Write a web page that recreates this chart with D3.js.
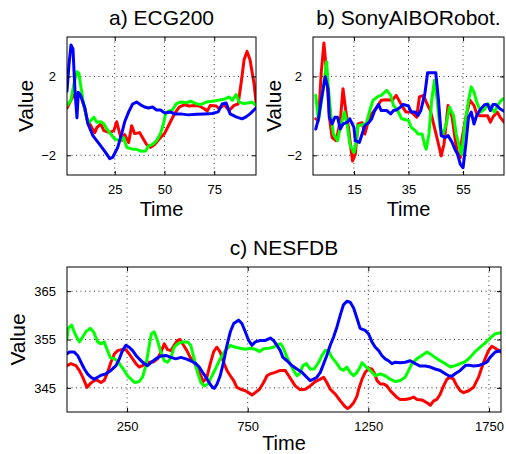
<!DOCTYPE html>
<html>
<head>
<meta charset="utf-8">
<script src="https://cdn.jsdelivr.net/npm/d3@7"></script>
<style>
  body { margin: 0; background: #fff; }
  text { font-family: "Liberation Sans", Arial, Helvetica, sans-serif; fill: #000; }
</style>
</head>
<body>
<div id="chart"></div>
<script>
// ---- data: [time, value] ----
const ecgRed = [[1,0.4],[3,0.8],[4.5,1.05],[6,0.95],[8,1.05],[9.5,0.5],[11,-0.15],[13.5,-0.6],[15,-0.85],[16,-0.6],[18,-0.4],[19.5,-0.75],[22.5,-0.85],[24.5,-0.75],[26,-0.3],[27.5,-0.9],[28.5,-1.25],[30,-0.95],[32,-1.35],[33.5,-0.5],[35,-0.9],[37.5,-0.85],[39.5,-1.2],[41,-1.45],[43,-1.6],[45,-1.45],[48,-1.1],[50,-0.9],[52.5,-0.4],[55,0.1],[57.5,0.45],[60,0.56],[62.5,0.5],[65,0.53],[67.5,0.5],[70,0.36],[71.5,0.24],[73,0.53],[76,0.5],[77.5,0.36],[80,0.57],[82.5,0.27],[85,0.53],[87,0.6],[88.5,1.64],[90,2.84],[91.5,3.27],[93,2.84],[95,1.64],[96,0.7]];
const ecgGreen = [[1,0.53],[3,0.8],[4.5,1.64],[6,2.24],[7,2.15],[8,1.47],[9,0.8],[10.5,0.1],[11.5,-0.4],[13,-0.24],[14.5,-0.07],[16,-0.32],[18,-0.3],[19.5,-0.4],[21,-0.67],[23,-0.92],[25,-1.18],[28,-1.26],[29.5,-1.1],[31,-1.6],[34,-1.69],[36,-1.7],[38.5,-1.8],[40.5,-1.78],[42,-1.52],[44,-1.45],[46,-1.26],[48,-0.9],[49.5,-0.4],[50.5,0.1],[52,0.24],[54,0.3],[56,0.62],[58,0.7],[61,0.66],[63,0.74],[66,0.62],[68,0.57],[71,0.7],[74,0.74],[77,0.79],[80,0.84],[82.5,0.96],[84,0.79],[86,1.08],[87.5,0.7],[90,0.62],[92.5,0.66],[94,0.7],[96,0.53]];
const ecgBlue = [[1,1.25],[2,2.6],[3,3.6],[4,3.4],[5,1.3],[6,-0.1],[6.7,1.2],[8,1.0],[10,0.4],[11.5,-0.4],[14,-1.0],[17,-1.4],[20,-1.8],[22.5,-2.17],[24,-2.1],[26.5,-1.6],[28.5,-0.9],[30,-0.3],[32,0.2],[34,0.6],[36,0.7],[38,0.56],[40,0.45],[42,0.4],[44,0.45],[46,0.3],[48,0.3],[50,0.15],[53,0.2],[55,0.1],[58,0.1],[62,0.05],[66,0.08],[70,0.1],[74,0.12],[77,0.2],[79,0.6],[81,0.65],[83,0.1],[86,-0.05],[89,-0.15],[91,-0.05],[93,0.1],[96,0.4]];

const sonyRed = [[1,-0.15],[2,-0.24],[3,2.15],[4,3.7],[5,2.15],[6,-0.07],[7,-1.1],[8.5,-1.26],[10,-0.24],[11,1.38],[12,0.27],[13,-0.58],[14,-1.78],[14.5,-2.29],[15.5,-1.95],[16.5,-0.41],[18,-0.35],[19,-0.92],[20,-0.4],[21.5,0.1],[23,0.36],[25,0.79],[27,0.82],[29,0.79],[30.5,1.04],[32.5,0.53],[34,0.2],[36,0.2],[38,-0.07],[39,0.96],[40.5,1.04],[41.5,0.7],[43,0.27],[44.5,-0.58],[46,-1.44],[47,-2.03],[48,-1.44],[49.5,0.53],[51,-0.07],[52,-1.1],[53,-1.95],[54,-2.12],[54.5,-1.26],[56,-0.07],[57.5,0.79],[59,0.53],[60,0.1],[61,0],[62.5,0],[64,0],[65,-0.32],[66,-0.05],[67.5,0.19],[68.5,-0.05],[70,-0.32]];
const sonyGreen = [[1,1.04],[2,-0.24],[3.5,1.13],[5,2.75],[5.5,1.64],[6.5,0.1],[7.5,-0.92],[9,-1.26],[10,-0.58],[11.5,0.19],[12.5,-0.41],[13.5,-1.44],[15,-1.86],[15.5,-1.6],[16.5,-0.5],[18,-0.45],[19.5,-0.4],[21,0.36],[22,0.79],[24,1.0],[25,1.04],[27,1.3],[28.5,1.04],[29.5,0.53],[31,0.27],[32.5,-0.15],[34,-0.2],[35,-0.24],[36,-0.58],[37.5,-0.75],[38.5,-0.92],[40,-0.92],[41,-1.52],[41.5,-1.69],[42.5,-0.92],[43.5,0.79],[44.5,1.81],[45.5,0.79],[46.5,-0.58],[47.5,-1.0],[49,-0.32],[50,0.44],[51.5,0.02],[52.5,-0.92],[54,-1.78],[54.5,-1.95],[55.5,-0.58],[57,0.79],[58,1.47],[59,1.21],[60,0.7],[61.5,0.19],[63,0.36],[64,0.62],[65,0.45],[66.5,0.19],[67.5,0.5],[69,0.79],[70,0.88]];
const sonyBlue = [[1,-0.67],[2,-0.15],[3,0.79],[4.5,1.98],[5.5,1.38],[6,-0.07],[7,-0.41],[8,-0.07],[9,-0.07],[10,-0.67],[11,-0.41],[12.5,-0.33],[13.5,-0.15],[15,-0.58],[15.5,-1.26],[17,-1.35],[18,-0.92],[19,-0.5],[20.5,-0.33],[21.5,-0.15],[22.5,0.24],[24,0.58],[25,0.27],[27,0.27],[28.5,0.1],[29.5,0.27],[30.5,0.3],[32,0.44],[33,0.58],[35,0.5],[36,0.19],[37.5,0.19],[38.5,0.02],[39.5,0.27],[41,1.13],[42,2.19],[43.5,2.19],[45,2.19],[46,0.79],[47,-1.0],[48.5,-1.1],[49.5,-1.0],[51,-1.35],[52,-1.69],[53,-1.95],[54,-2.46],[55,-2.63],[56,-1.44],[57,-0.07],[58,0.19],[59,-0.41],[60,0.02],[61.5,0.36],[63,0.58],[64,0.58],[65,0.27],[66,0.58],[67,0.58],[68.5,0.36],[70,0.24]];

const nesRed = [[1,349.6],[17,350.0],[38,349.6],[52,348.6],[66,347.2],[84,345.1],[100,346],[121,346.7],[142,346.1],[155,346.5],[169,348.2],[183,350.3],[197,352],[211,352.7],[227,352.9],[245,352.9],[259,352],[273,351],[287,350],[300,349.3],[314,349.6],[328,350.3],[342,350.3],[360,350.4],[376,351],[393,352.7],[404,354.1],[418,352.9],[432,352.7],[445,353.8],[459,354.8],[470,355],[484,353.8],[498,352.7],[512,351.3],[528,350.3],[542,348.9],[556,347.5],[566,346.3],[580,347],[595,350],[609,352.5],[622,353.4],[636,352.4],[650,350.3],[664,348.6],[678,347.5],[692,346.5],[705,345.1],[722,344.7],[740,344.4],[754,344],[768,343.5],[781,344],[799,344.7],[816,346.1],[830,347.5],[844,347.9],[864,348.2],[885,348.6],[906,348.6],[920,347.5],[933,346.5],[947,345.4],[968,344.6],[989,344.7],[1009,345.4],[1030,346.3],[1051,346.8],[1065,347.2],[1078,346.1],[1092,344.7],[1113,343.7],[1134,342.3],[1154,341.1],[1164,340.7],[1175,341.1],[1189,341.9],[1203,343.3],[1210,344.7],[1224,346.8],[1237,348.2],[1251,349],[1265,348.9],[1276,347.9],[1286,346.5],[1300,345.8],[1314,345.8],[1327,345.4],[1341,344.4],[1355,343.7],[1369,343],[1382,342.6],[1403,342.6],[1424,342.8],[1438,343.1],[1451,342.6],[1472,342.5],[1493,341.9],[1507,341.4],[1521,342.3],[1534,342.6],[1548,343.7],[1562,345.4],[1576,346.8],[1590,347.2],[1603,346.8],[1617,345.4],[1631,344.4],[1645,344],[1666,344.4],[1686,345.1],[1707,347.2],[1728,350.3],[1748,352.7],[1762,353.6],[1776,353.2],[1800,352.4]];
const nesGreen = [[1,355.2],[6,357.3],[20,358],[34,356.2],[52,354.5],[66,355.5],[79,356.6],[97,357.3],[111,356.6],[128,354.5],[142,354.1],[155,354.5],[166,353.1],[180,351.3],[197,351],[211,350.6],[224,349.6],[238,348.6],[252,347.5],[266,346.8],[282,346.1],[300,346.3],[314,347.2],[328,349.6],[342,353.8],[351,356.2],[362,356.6],[376,354.8],[390,352.4],[404,350.6],[418,350.3],[432,351.3],[445,353.4],[459,354.1],[480,354.5],[500,354.5],[514,353.8],[528,351],[542,348.2],[556,346.1],[570,345.4],[586,345.8],[600,347.3],[616,348.9],[636,351],[657,352.7],[678,353.8],[699,353.4],[719,353.2],[740,353],[761,353.2],[781,353],[799,352.5],[816,353.1],[837,353.2],[857,353.4],[871,353.9],[888,354.1],[899,353.1],[913,351.3],[926,350],[940,348.6],[954,347.5],[965,347.9],[979,349.6],[993,350],[1009,348.9],[1026,348.9],[1044,350.3],[1058,351.7],[1071,352.7],[1085,352.7],[1099,351.3],[1120,350],[1134,348.9],[1147,348.6],[1161,349.3],[1175,348.2],[1189,347.5],[1203,348.2],[1216,349.3],[1224,350.2],[1237,349.5],[1258,348.6],[1279,347.5],[1300,347.9],[1320,347.5],[1341,346.8],[1362,346.3],[1382,346.5],[1403,347.2],[1417,348.6],[1431,350],[1451,351],[1472,351.7],[1493,352.4],[1507,352],[1527,351.3],[1548,350.6],[1569,350],[1590,349.3],[1610,349.6],[1631,350],[1652,350.4],[1672,351.3],[1693,352.5],[1714,353.4],[1735,354.3],[1755,355.3],[1776,356.2],[1800,356.4]];
const nesBlue = [[1,352],[10,352.4],[31,352.4],[45,351.7],[59,350.3],[73,348.9],[86,347.9],[100,347.2],[114,346.8],[128,347.2],[142,347.6],[162,347.9],[183,348.6],[204,349.6],[218,351],[231,352.7],[245,353.8],[259,353.4],[273,352.7],[287,351.7],[300,351],[321,350],[335,349.6],[351,350.3],[369,351],[390,351.6],[411,351.7],[432,351.3],[452,351],[473,351.3],[494,351],[514,350.6],[535,350],[549,349.3],[563,348.2],[577,347.2],[590,346.1],[604,345.1],[612,344.9],[623,345.8],[636,347.5],[650,350.3],[664,353.8],[678,356.6],[692,358.3],[712,359],[726,358.3],[740,356.6],[754,354.8],[768,353.8],[781,354.5],[802,354.8],[823,354.8],[844,355.3],[857,354.8],[871,353.8],[885,352.7],[896,351.3],[913,350.6],[933,349.6],[954,348.9],[975,348.2],[995,347.2],[1009,346.5],[1023,346.8],[1037,347.2],[1051,348.2],[1065,350],[1078,351.7],[1092,353.8],[1106,355.5],[1120,357.6],[1134,360.1],[1147,362.2],[1161,362.9],[1175,362.7],[1189,361.5],[1203,359.4],[1216,357.3],[1237,356.9],[1251,356.2],[1265,354.5],[1279,353.4],[1293,352.7],[1306,351.7],[1320,351],[1334,350.6],[1348,350],[1362,350.3],[1382,350.2],[1403,350.3],[1424,350.6],[1445,350],[1465,349.5],[1486,349.5],[1507,349.3],[1527,348.9],[1548,348.6],[1569,347.9],[1583,347.5],[1596,347.4],[1610,347.9],[1631,348.6],[1652,349.6],[1666,349.7],[1686,349.5],[1707,349.6],[1728,350],[1741,350.3],[1755,351.3],[1776,352.4],[1800,352.7]];

const ecgTicksX = [25, 50, 75];
const sonyTicksX = [15, 35, 55];
const nesTicksX = [250, 750, 1250, 1750];
const smallTicksY = [-2, 2];
const nesTicksY = [345, 355, 365];

const seriesColors = ["#ff0000", "#00ff00", "#0000ff"];

const width = 506, height = 454;

const svg = d3.select("#chart")
    .append("svg")
    .attr("width", width)
    .attr("height", height)
    .style("background", "#fff");

function drawPanel(cfg) {
    const w = cfg.right - cfg.left,
        h = cfg.bottom - cfg.top;
    const g = svg.append("g").attr("transform", `translate(${cfg.left},${cfg.top})`);

    const x = d3.scaleLinear().domain(cfg.xDomain).range([0, w]);
    const y = d3.scaleLinear().domain(cfg.yDomain).range([h, 0]);
    const fmt = d3.format("d");

    // dotted grid
    g.selectAll(".vgrid").data(cfg.xTicks).join("line")
        .attr("x1", d => x(d)).attr("x2", d => x(d))
        .attr("y1", 0).attr("y2", h)
        .attr("stroke", "#000").attr("stroke-width", 0.8)
        .attr("stroke-dasharray", "1,3.5");
    g.selectAll(".hgrid").data(cfg.yTicks).join("line")
        .attr("x1", 0).attr("x2", w)
        .attr("y1", d => y(d)).attr("y2", d => y(d))
        .attr("stroke", "#000").attr("stroke-width", 0.8)
        .attr("stroke-dasharray", "1,3.5");

    // lines
    g.append("clipPath").attr("id", "clip-" + cfg.id)
        .append("rect").attr("width", w).attr("height", h);

    const line = d3.line()
        .x(d => x(d[0]))
        .y(d => y(d[1]));

    g.append("g").attr("clip-path", `url(#clip-${cfg.id})`)
        .selectAll("path").data(cfg.series).join("path")
        .attr("fill", "none")
        .attr("stroke", (d, i) => seriesColors[i])
        .attr("stroke-width", 3)
        .attr("stroke-linejoin", "round")
        .attr("stroke-linecap", "round")
        .attr("d", d => line(d));

    // axes, ticks pointing inward
    const styleAxis = a => {
        a.select(".domain").remove();
        a.selectAll("text").attr("font-size", 13).attr("font-family", '"Liberation Sans", Arial, sans-serif');
        a.selectAll("line").attr("stroke", "#000");
    };
    g.append("g").attr("transform", `translate(0,${h})`)
        .call(d3.axisBottom(x).tickValues(cfg.xTicks).tickFormat(fmt).tickSize(-4).tickPadding(10))
        .call(styleAxis);
    g.append("g")
        .call(d3.axisTop(x).tickValues(cfg.xTicks).tickSize(-4).tickFormat(""))
        .call(styleAxis);
    g.append("g")
        .call(d3.axisLeft(y).tickValues(cfg.yTicks).tickFormat(fmt).tickSize(-4).tickPadding(11))
        .call(styleAxis);
    g.append("g").attr("transform", `translate(${w},0)`)
        .call(d3.axisRight(y).tickValues(cfg.yTicks).tickSize(-4).tickFormat(""))
        .call(styleAxis);

    // box
    g.append("rect")
        .attr("width", w).attr("height", h)
        .attr("fill", "none").attr("stroke", "#000").attr("stroke-width", 1);

    // title and labels
    g.append("text")
        .attr("x", w / 2).attr("y", -12)
        .attr("text-anchor", "middle")
        .attr("font-size", 21)
        .text(cfg.title);
    g.append("text")
        .attr("x", w / 2).attr("y", h + cfg.xlabelOffset)
        .attr("text-anchor", "middle")
        .attr("font-size", 20)
        .text("Time");
    g.append("text")
        .attr("transform", `translate(${-cfg.ylabelOffset},${h / 2}) rotate(-90)`)
        .attr("text-anchor", "middle")
        .attr("font-size", 21)
        .text("Value");
}

drawPanel({
    id: "a", title: "a) ECG200",
    left: 67, top: 37, right: 256, bottom: 175,
    xDomain: [1, 96], yDomain: [-3, 4],
    xTicks: ecgTicksX, yTicks: smallTicksY,
    series: [ecgRed, ecgGreen, ecgBlue],
    ylabelOffset: 34, xlabelOffset: 40.5
});

drawPanel({
    id: "b", title: "b) SonyAIBORobot.",
    left: 313, top: 37, right: 504, bottom: 175,
    xDomain: [0, 70], yDomain: [-3, 4],
    xTicks: sonyTicksX, yTicks: smallTicksY,
    series: [sonyRed, sonyGreen, sonyBlue],
    ylabelOffset: 32, xlabelOffset: 40.5
});

drawPanel({
    id: "c", title: "c) NESFDB",
    left: 67, top: 267, right: 501, bottom: 412,
    xDomain: [1, 1800], yDomain: [340, 370],
    xTicks: nesTicksX, yTicks: nesTicksY,
    series: [nesRed, nesGreen, nesBlue],
    ylabelOffset: 42, xlabelOffset: 37.5
});
</script>
</body>
</html>
